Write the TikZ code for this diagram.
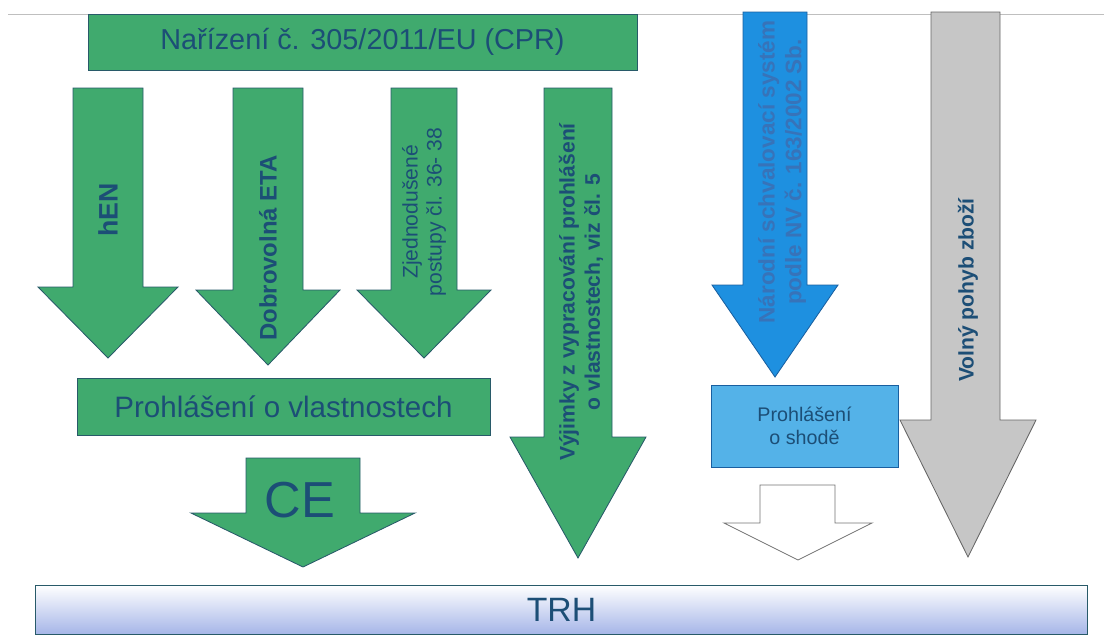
\documentclass[tikz,border=0pt]{standalone}
\usepackage{fontspec}
\setmainfont{Liberation Sans}
\usepackage{tikz}
\definecolor{cprgreen}{RGB}{64,170,110}
\definecolor{cprline}{RGB}{40,90,105}
\definecolor{cprtext}{RGB}{28,78,118}
\definecolor{nvblue}{RGB}{30,144,224}
\definecolor{nvline}{RGB}{25,95,160}
\definecolor{nvtext}{RGB}{55,115,185}
\definecolor{shodablue}{RGB}{84,178,232}
\definecolor{freegray}{RGB}{198,198,198}
\definecolor{trhblue}{RGB}{166,182,232}
\tikzset{
  greenbox/.style={
    rectangle,
    fill=cprgreen,
    draw=cprline, line width=0.6pt,
    text=cprtext,
    font=\fontsize{20.5}{24}\selectfont},
  greenarrow/.style={fill=cprgreen, draw=cprline, line width=0.6pt},
  bluearrow/.style={fill=nvblue, draw=nvline, line width=0.6pt},
  grayarrow/.style={fill=freegray, draw=black!60, line width=0.6pt},
  whitearrow/.style={fill=white, draw=black!55, line width=0.6pt},
  shodabox/.style={
    rectangle,
    fill=shodablue,
    draw=nvline, line width=0.6pt,
    text=cprtext, align=center,
    font=\fontsize{14}{16}\selectfont},
  trhbar/.style={
    rectangle,
    top color=white,
    bottom color=trhblue,
    draw=cprline, line width=0.6pt,
    text=cprtext,
    font=\fontsize{24}{28}\selectfont},
  vlabel/.style={rotate=90, align=center, text=cprtext,
    font=\bfseries\fontsize{16}{19}\selectfont},
}
\begin{document}
\begin{tikzpicture}[x=0.025cm, y=-0.025cm]
\useasboundingbox (0,0) rectangle (1104,634);
\draw[black!25] (8,14) -- (1104,14);
% green block arrows: centre / half shaft / half head / top / head start / tip
\foreach \cx/\sw/\hw/\top/\hs/\tip in {108/35/70/88/287/358, 268/35/72/88/290/365,
  424/33/67/88/290/358, 578/34/68/88/437/558, 303/57/112/458/513/567}{
\draw[greenarrow] (\cx-\sw,\top) -- (\cx+\sw,\top) -- (\cx+\sw,\hs) -- (\cx+\hw,\hs)
  -- (\cx,\tip) -- (\cx-\hw,\hs) -- (\cx-\sw,\hs) -- cycle;
}
\draw[bluearrow] (743,12) -- (807,12) -- (807,285) -- (838,285) -- (775,377)
  -- (712,285) -- (743,285) -- cycle;
\draw[grayarrow] (931,12) -- (1000,12) -- (1000,420) -- (1036,420) -- (968,557)
  -- (900,420) -- (931,420) -- cycle;
\draw[whitearrow] (760,485) -- (835,485) -- (835,523) -- (872,523) -- (798,560)
  -- (724,523) -- (760,523) -- cycle;

\node[greenbox, minimum width=13.725cm, minimum height=1.4cm] (cpr) at (362.5,42)
  {Nařízení č. 305/2011/EU (CPR)};
\node[greenbox, font=\fontsize{21}{24}\selectfont, minimum width=10.325cm,
  minimum height=1.425cm] (dop) at (283.5,406.5) {Prohlášení o vlastnostech};
\node[shodabox, minimum width=4.675cm, minimum height=2.05cm] (shoda) at (804.5,426)
  {Prohlášení\\o shodě};
\node[trhbar, minimum width=26.275cm, minimum height=1.225cm] (trh) at (561.5,609.5) {TRH};

\node[vlabel, font=\bfseries\fontsize{19}{22}\selectfont] (hen) at (108,210) {hEN};
\node[vlabel, font=\bfseries\fontsize{17}{20}\selectfont] (eta) at (268,248) {Dobrovolná ETA};
\node[vlabel, font=\fontsize{15}{17}\selectfont] (zjed) at (424,212)
  {Zjednodušené\\postupy čl. 36- 38};
\node[vlabel, font=\bfseries\fontsize{15}{18}\selectfont] (vyjimky) at (581,292)
  {Výjimky z vypracování prohlášení\\o vlastnostech, viz čl. 5};
\node[vlabel, text=nvtext] (narodni) at (782,172)
  {Národní schvalovací systém\\podle NV č. 163/2002 Sb.};
\node[vlabel, font=\bfseries\fontsize{15}{18}\selectfont] (volny) at (968,290) {Volný pohyb zboží};
\node[text=cprtext, font=\fontsize{36}{40}\selectfont] (ce) at (300,500) {CE};
\end{tikzpicture}
\end{document}
